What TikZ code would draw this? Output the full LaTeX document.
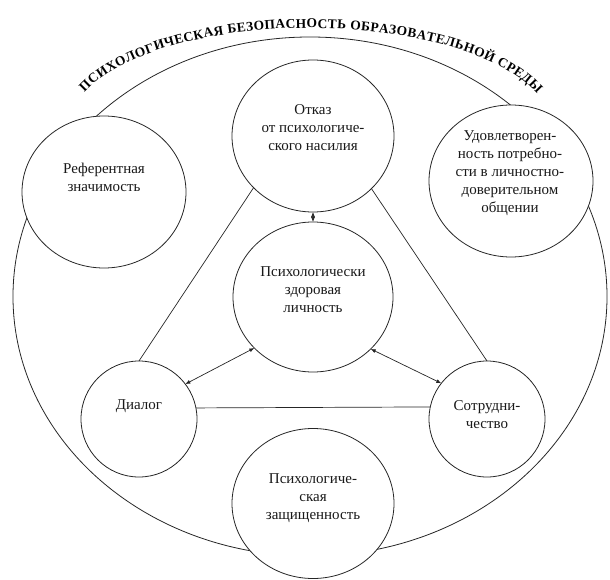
\documentclass[tikz,border=0pt]{standalone}
\usepackage{fontspec}
\setmainfont{Liberation Serif}
\usetikzlibrary{shapes.geometric,arrows.meta,decorations.text}
\newcommand\titlefmt{\fontsize{13.4}{14}\selectfont\bfseries}
\begin{document}
\begin{tikzpicture}[x=1pt,y=-1pt,
  circ/.style={ellipse,draw=black!85,line width=0.8pt,fill=white,inner sep=0pt,outer sep=0pt},
  lbl/.style={align=center,font=\fontsize{15}{18}\selectfont,text=black!90},
  link/.style={draw=black!85,line width=0.7pt},
  biarrow/.style={link,{Latex[length=5pt,width=4pt]}-{Latex[length=5pt,width=4pt]}}]
\useasboundingbox (0,0) rectangle (610,580);
% outer environment
\draw[draw=black!85,line width=0.8pt] (310,296.5) ellipse [x radius=297, y radius=259.5];
\path[decorate,decoration={text along path,
  text={|\titlefmt|ПСИХОЛОГИЧЕСКАЯ БЕЗОПАСНОСТЬ ОБРАЗОВАТЕЛЬНОЙ СРЕДЫ},
  text align=fit to path}]
  (84.5,92.5) arc[start angle=-160, end angle=-19, x radius=240, y radius=98];
% circles
\node[circ,minimum width=162pt,minimum height=152pt] (top) at (313,136) {};
\node[circ,minimum width=160pt,minimum height=150pt] (center) at (313,297) {};
\node[circ,minimum width=164pt,minimum height=152pt] (left) at (104,192) {};
\node[circ,minimum width=164pt,minimum height=152pt] (right) at (511,181) {};
\node[circ,minimum width=162pt,minimum height=150pt] (bottom) at (313,503.5) {};
\node[circ,minimum width=116pt,minimum height=116pt] (dialog) at (139,419) {};
\node[circ,minimum width=116pt,minimum height=116pt] (coop) at (487,419) {};
% labels
\node[lbl] (ttop) at (313,128) {Отказ\\от психологиче-\\ского насилия};
\node[lbl] (tcenter) at (313,290) {Психологически\\здоровая\\личность};
\node[lbl] (tleft) at (104,177) {Референтная\\значимость};
\node[lbl] (tright) at (510,173) {Удовлетворен-\\ность потребно-\\сти в личностно-\\доверительном\\общении};
\node[lbl] (tdialog) at (139,406) {Диалог};
\node[lbl] (tcoop) at (487,415) {Сотрудни-\\чество};
\node[lbl] (tbottom) at (313,498) {Психологиче-\\ская\\защищенность};
% connectors
\draw[link] (top.221) -- (dialog.north);
\draw[link] (top.318.6) -- (coop.north);
\draw[link] (dialog.11.9) -- (coop.168.1);
\draw[biarrow] (top.south) -- (center.north);
\draw[biarrow] (center.221.5) -- (dialog.37);
\draw[biarrow] (center.318.5) -- (coop.142.5);
\end{tikzpicture}
\end{document}
